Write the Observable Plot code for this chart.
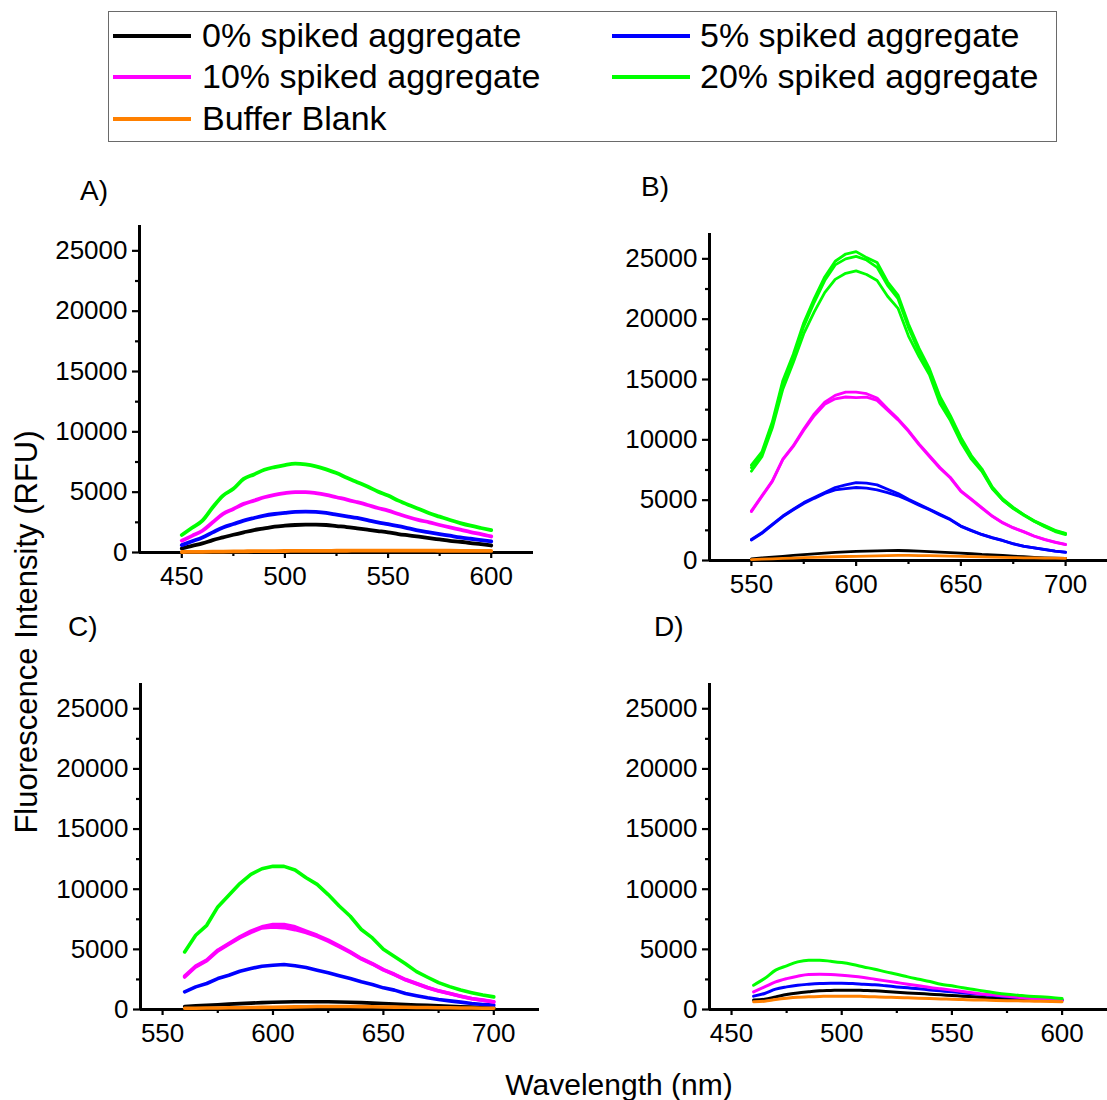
<!DOCTYPE html>
<html>
<head>
<meta charset="utf-8">
<script src="https://cdn.jsdelivr.net/npm/d3@7"></script>
<script src="https://cdn.jsdelivr.net/npm/@observablehq/plot@0.6"></script>
<style>
  body { margin: 0; background: #fff; }
  #root { position: relative; width: 1107px; height: 1100px; background: #fff; font-family: "Liberation Sans", Arial, sans-serif; color: #000; overflow: hidden; }
  .abs { position: absolute; white-space: nowrap; }
</style>
</head>
<body>
<div id="root"></div>
<script>
// ---------------- DATA ----------------
const seriesNames = ["0% spiked aggregate", "5% spiked aggregate", "10% spiked aggregate", "20% spiked aggregate", "Buffer Blank"];
const seriesColors = ["#000000", "#0000ff", "#ff00ff", "#00ff00", "#ff8000"];
const panelLabels = ["A)", "B)", "C)", "D)"];
const yTicks = [0, 5000, 10000, 15000, 20000, 25000];
const yMinorTicks = [2500, 7500, 12500, 17500, 22500];
const xTicksAD = [450, 500, 550, 600];
const xMinorAD = [475, 525, 575];
const xTicksBC = [550, 600, 650, 700];
const xMinorBC = [575, 625, 675];
const xTitle = "Wavelength (nm)";
const yTitle = "Fluorescence Intensity (RFU)";

// Panel A (450-600 nm)
const waveA = [450,455,460,465,470,475,480,485,490,495,500,505,510,515,520,525,530,535,540,545,550,555,560,565,570,575,580,585,590,595,600];
const A_0 = [330,550,750,1030,1250,1470,1670,1860,2000,2140,2220,2280,2310,2310,2280,2190,2110,2000,1890,1780,1670,1530,1420,1310,1190,1080,970,890,780,690,580];
const A_5 = [610,930,1250,1670,2080,2360,2640,2860,3060,3190,3280,3360,3390,3360,3280,3140,3000,2860,2690,2500,2360,2190,2000,1810,1670,1530,1390,1250,1140,1030,920];
const A_10 = [970,1380,1800,2500,3200,3610,4030,4300,4580,4780,4920,5000,5000,4920,4780,4580,4390,4170,3940,3690,3470,3190,2920,2690,2500,2280,2080,1890,1690,1530,1330];
const A_20 = [1450,2050,2640,3750,4720,5280,6100,6470,6860,7080,7250,7360,7300,7140,6890,6580,6190,5830,5470,5060,4720,4300,3940,3610,3250,2970,2690,2440,2220,2030,1850];
const A_blank = [40,50,60,70,80,90,100,110,115,120,125,130,135,140,140,145,145,150,150,150,150,150,150,150,150,145,145,140,140,135,130];

// Panel B (550-700 nm)
const waveB = [550,555,560,565,570,575,580,585,590,595,600,605,610,615,620,625,630,635,640,645,650,655,660,665,670,675,680,685,690,695,700];
const B_0 = [140,210,280,350,420,490,550,610,670,710,750,780,800,820,830,810,780,740,690,650,610,560,500,460,420,360,310,260,220,190,170];
const B_5_rep1 = [1750,2300,3000,3690,4250,4800,5220,5630,6050,6270,6460,6410,6270,5910,5550,5080,4660,4250,3830,3410,2860,2500,2160,1890,1660,1390,1190,1050,920,780,690];
const B_5_rep2 = [1700,2250,2950,3640,4200,4720,5150,5550,5850,5950,6050,5990,5850,5630,5360,4990,4590,4200,3780,3370,2830,2470,2140,1870,1640,1380,1180,1040,910,770,680];
const B_10_rep1 = [4110,5360,6600,8410,9520,10900,12150,13120,13680,13960,13960,13820,13460,12570,11740,10770,9660,8680,7710,6880,5770,5080,4380,3690,3140,2720,2390,2030,1750,1530,1330];
const B_10_rep2 = [4050,5300,6550,8350,9450,10800,12000,12950,13400,13550,13490,13540,13260,12450,11650,10700,9600,8620,7650,6830,5720,5040,4340,3660,3110,2700,2370,2010,1730,1510,1310];
const B_20_rep1 = [7900,9000,11500,14900,17100,19700,21700,23500,24800,25400,25600,25100,24700,23100,22000,19600,17600,15900,13600,12000,10200,8700,7600,6100,5100,4400,3800,3300,2900,2500,2250];
const B_20_rep2 = [7700,8800,11300,14600,16900,19400,21400,23200,24500,25000,25200,24900,24300,22800,21700,19300,17300,15700,13400,11800,10000,8500,7500,6000,5000,4350,3800,3250,2850,2450,2200];
const B_20_rep3 = [7400,8600,11000,14200,16400,18800,20600,22200,23300,23800,24000,23700,23200,21900,20900,18600,16900,15400,13000,11600,9800,8400,7400,5950,5000,4300,3750,3250,2800,2400,2150];
const B_blank = [80,110,140,170,200,230,260,290,310,330,350,370,390,410,420,420,410,400,380,360,340,320,300,280,260,240,220,210,200,190,180];

// Panel C (560-700 nm)
const waveC = [560,565,570,575,580,585,590,595,600,605,610,615,620,625,630,635,640,645,650,655,660,665,670,675,680,685,690,695,700];
const C_0 = [250,300,350,400,450,490,530,570,600,620,640,650,650,640,620,600,570,530,500,460,420,380,340,300,260,230,200,170,150];
const C_5 = [1470,1880,2160,2570,2850,3180,3410,3600,3680,3740,3630,3490,3270,3050,2800,2570,2300,2080,1800,1610,1330,1140,970,830,720,610,500,420,360];
const C_10_rep1 = [2770,3600,4100,4930,5480,6040,6510,6870,7060,7060,6870,6510,6170,5760,5290,4790,4240,3820,3320,2930,2490,2160,1830,1550,1330,1110,910,780,640];
const C_10_rep2 = [2700,3550,4050,4870,5420,5970,6420,6780,6870,6810,6640,6400,6080,5690,5230,4740,4200,3780,3290,2900,2470,2140,1810,1540,1320,1100,900,770,630];
const C_20 = [4790,6170,7000,8530,9500,10470,11240,11700,11900,11900,11600,10950,10400,9550,8600,7750,6650,5950,5000,4400,3800,3150,2680,2230,1900,1620,1400,1200,1050];
const C_blank = [100,110,120,130,140,150,160,175,190,200,215,230,245,250,250,245,235,225,210,200,185,170,160,150,140,130,120,110,100];

// Panel D (460-600 nm)
const waveD = [460,465,470,475,480,485,490,495,500,505,510,515,520,525,530,535,540,545,550,555,560,565,570,575,580,585,590,595,600];
const D_0 = [780,860,1050,1250,1380,1470,1550,1580,1610,1610,1580,1550,1500,1440,1380,1330,1270,1220,1160,1110,1050,1000,940,910,890,860,830,800,780];
const D_5 = [1110,1330,1690,1880,2020,2100,2160,2190,2190,2160,2100,2050,1970,1880,1800,1720,1630,1550,1470,1380,1300,1220,1140,1050,1000,940,890,830,780];
const D_10 = [1470,1880,2300,2570,2770,2910,2930,2910,2850,2770,2660,2520,2380,2240,2100,1970,1830,1720,1610,1500,1380,1270,1190,1110,1020,940,890,830,780];
const D_20 = [2020,2570,3270,3630,3960,4100,4100,4010,3900,3740,3540,3350,3130,2930,2710,2520,2330,2100,1970,1800,1660,1520,1380,1270,1190,1110,1050,1000,910];
const D_blank = [640,690,830,940,1020,1050,1080,1110,1110,1110,1080,1050,1020,1000,970,940,910,880,860,830,800,780,750,730,720,700,690,670,640];

// ---------------- LAYOUT ----------------
const FONT = '"Liberation Sans", Arial, sans-serif';
const root = document.getElementById("root");

function addDiv(text, css) {
  const d = document.createElement("div");
  d.className = "abs";
  d.textContent = text;
  Object.assign(d.style, css);
  root.appendChild(d);
  return d;
}

// Legend
const legendBox = document.createElement("div");
Object.assign(legendBox.style, {position: "absolute", left: "108px", top: "11px", width: "949px", height: "131px", border: "1.5px solid #6a6a6a", boxSizing: "border-box"});
root.appendChild(legendBox);
const legRows = [35, 76, 118];
const legLineX = [113, 612];
const legTextX = [202, 700];
seriesNames.forEach((name, i) => {
  const col = i % 2, row = Math.floor(i / 2);
  const cy = legRows[row];
  const ln = document.createElement("div");
  Object.assign(ln.style, {position: "absolute", left: legLineX[col] + "px", top: (cy - 1) + "px", width: "78px", height: "4px", background: seriesColors[i]});
  root.appendChild(ln);
  addDiv(name, {left: legTextX[col] + "px", top: (cy - 20) + "px", height: "40px", lineHeight: "40px", fontSize: "34px"});
});

// Axis titles
addDiv(yTitle, {left: "26px", top: "632px", fontSize: "31px", lineHeight: "31px", transform: "translate(-50%,-50%) rotate(-90deg)"});
addDiv(xTitle, {left: "619px", top: "1070px", fontSize: "30px", lineHeight: "30px", transform: "translateX(-50%)"});

// Panels
const panels = [
  {label: panelLabels[0], labelPos: [80, 177], box: [0, 200, 560, 420], margins: [25, 27, 68, 139], xDomain: [429.5, 620.5],
   xTicks: xTicksAD, xMinor: xMinorAD, wave: waveA,
   series: [[A_0], [A_5], [A_10], [A_20], [A_blank]], curve: "monotone-x", sw: 3.8},
  {label: panelLabels[1], labelPos: [641, 173], box: [560, 200, 547, 420], margins: [33, 0, 60, 149], xDomain: [530, 720],
   xTicks: xTicksBC, xMinor: xMinorBC, wave: waveB,
   series: [[B_0], [B_5_rep1, B_5_rep2], [B_10_rep1, B_10_rep2], [B_20_rep1, B_20_rep2, B_20_rep3], [B_blank]], curve: "linear", sw: 2.8},
  {label: panelLabels[2], labelPos: [68, 613], box: [0, 650, 560, 420], margins: [33, 21, 61, 140], xDomain: [540, 720.7],
   xTicks: xTicksBC, xMinor: xMinorBC, wave: waveC,
   series: [[C_0], [C_5], [C_10_rep1, C_10_rep2], [C_20], [C_blank]], curve: "linear", sw: 3.6},
  {label: panelLabels[3], labelPos: [654, 613], box: [560, 650, 547, 420], margins: [33, 0, 61, 149], xDomain: [440, 620.6],
   xTicks: xTicksAD, xMinor: xMinorAD, wave: waveD,
   series: [[D_0], [D_5], [D_10], [D_20], [D_blank]], curve: "monotone-x", sw: 3}
];

panels.forEach(p => {
  addDiv(p.label, {left: p.labelPos[0] + "px", top: p.labelPos[1] + "px", fontSize: "28px", lineHeight: "28px"});
  const [left, top, width, height] = p.box;
  const [mt, mr, mb, ml] = p.margins;
  const marks = [
    Plot.ruleX([p.xDomain[0]], {stroke: "black", strokeWidth: 3}),
    Plot.ruleY([0], {stroke: "black", strokeWidth: 3}),
    Plot.axisY({ticks: yTicks, tickSize: 7, tickPadding: 5, tickFormat: "d", fontSize: 26, strokeWidth: 2.2, label: null}),
    Plot.axisY({ticks: yMinorTicks, tickSize: 4, tickFormat: () => "", strokeWidth: 2.2, label: null}),
    Plot.axisX({ticks: p.xTicks, tickSize: 6, tickPadding: 8, tickFormat: "d", fontSize: 26, strokeWidth: 2.2, label: null}),
    Plot.axisX({ticks: p.xMinor, tickSize: 4, tickFormat: () => "", strokeWidth: 2.2, label: null})
  ];
  p.series.forEach((reps, si) => {
    reps.forEach(vals => {
      const rows = p.wave.map((w, i) => ({w, v: vals[i]}));
      marks.push(Plot.line(rows, {x: "w", y: "v", stroke: seriesColors[si], strokeWidth: p.sw, curve: p.curve}));
    });
  });
  const chart = Plot.plot({
    width, height,
    marginTop: mt, marginRight: mr, marginBottom: mb, marginLeft: ml,
    x: {domain: p.xDomain},
    y: {domain: [0, 27100]},
    style: {fontFamily: FONT, fontSize: "26px", color: "black", background: "transparent", overflow: "visible"},
    marks
  });
  const holder = document.createElement("div");
  Object.assign(holder.style, {position: "absolute", left: left + "px", top: top + "px", width: width + "px", height: height + "px"});
  holder.appendChild(chart);
  root.appendChild(holder);
});
</script>
</body>
</html>
